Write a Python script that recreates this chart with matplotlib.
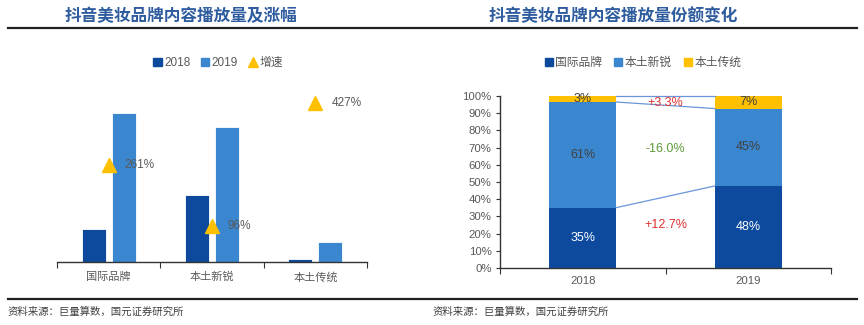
import matplotlib
matplotlib.use("Agg")
import matplotlib.pyplot as plt
from matplotlib.lines import Line2D
from matplotlib.patches import Patch

plt.rcParams['font.family'] = ['Liberation Sans', 'Noto Sans CJK SC', 'DejaVu Sans']

# ---------------- data ----------------
left_title = "抖音美妆品牌内容播放量及涨幅"
right_title = "抖音美妆品牌内容播放量份额变化"
source = "资料来源：巨量算数，国元证券研究所"

categories = ["国际品牌", "本土新锐", "本土传统"]
plays_2018 = [100, 202, 10]      # relative play volume (no axis shown)
plays_2019 = [448, 406, 60]
growth = [261, 96, 427]          # %
growth_labels = ["261%", "96%", "427%"]

years = ["2018", "2019"]
share_intl = [35.1, 47.7]
share_new = [61.4, 45.0]
share_trad = [3.5, 7.3]
share_intl_lbl = ["35%", "48%"]
share_new_lbl = ["61%", "45%"]
share_trad_lbl = ["3%", "7%"]
change_labels = ["+12.7%", "-16.0%", "+3.3%"]
change_y = [25, 69, 96]
change_colors = ["#E03030", "#5E9C3A", "#E03030"]

C_DARK = "#0D4A9E"
C_MID = "#3A87CF"
C_YEL = "#FFC000"
C_TXT = "#595959"
C_TITLE = "#2E5C9E"
C_LINK = "#6A96D8"

W, H = 864, 325
fig = plt.figure(figsize=(W / 100, H / 100), dpi=100)

def fx(px):
    return px / W

def fy(py):
    return 1 - py / H

# titles and rules
fig.text(fx(65), fy(16), left_title, color=C_TITLE, fontsize=12, fontweight='bold',
         family=['Noto Sans CJK SC'], va='center', ha='left')
fig.text(fx(489), fy(16), right_title, color=C_TITLE, fontsize=12, fontweight='bold',
         family=['Noto Sans CJK SC'], va='center', ha='left')
fig.add_artist(Line2D([fx(8), fx(857)], [fy(28), fy(28)], color='#222222', lw=1.6))
fig.add_artist(Line2D([fx(8), fx(857)], [fy(298.5), fy(298.5)], color='#222222', lw=1.6))
fig.text(fx(8), fy(312), source, color='#404040', fontsize=7.5, family=['Noto Sans CJK SC'],
         va='center', ha='left')
fig.text(fx(433), fy(312), source, color='#404040', fontsize=7.5, family=['Noto Sans CJK SC'],
         va='center', ha='left')

# ---------------- left chart ----------------
axL = fig.add_axes([fx(57), fy(262), fx(367) - fx(57), fy(83) - fy(262)])
x = list(range(len(categories)))
off, bw = 0.145, 0.235
axL.bar([i - off for i in x], plays_2018, width=bw, color=C_DARK, edgecolor='white', linewidth=0.6)
axL.bar([i + off for i in x], plays_2019, width=bw, color=C_MID, edgecolor='white', linewidth=0.6)
axL.set_xlim(-0.5, 2.5)
axL.set_ylim(0, 537)
axL.set_yticks([])
for s in ['top', 'right', 'left']:
    axL.spines[s].set_visible(False)
axL.spines['bottom'].set_color('#333333')
axL.spines['bottom'].set_linewidth(1.0)
axL.set_xticks([-0.5, 0.5, 1.5, 2.5])
axL.set_xticklabels([])
axL.set_xticks(x, minor=True)
axL.set_xticklabels(categories, minor=True, color=C_TXT, fontsize=8, family=['Noto Sans CJK SC'])
axL.tick_params(axis='x', which='major', length=4, color='#333333', direction='out')
axL.tick_params(axis='x', which='minor', length=0, pad=7)

axL2 = axL.twinx()
axL2.set_ylim(0, 482)
axL2.plot(x, growth, linestyle='none', marker='^', markersize=10, color=C_YEL)
for i, (g, lbl) in enumerate(zip(growth, growth_labels)):
    axL2.annotate(lbl, (i, g), xytext=(11.5, 0), textcoords='offset points',
                  va='center', ha='left', fontsize=8.5, color=C_TXT)
axL2.set_yticks([])
for s in ['top', 'right', 'left', 'bottom']:
    axL2.spines[s].set_visible(False)

handlesL = [Patch(color=C_DARK, label='2018'), Patch(color=C_MID, label='2019'),
            Line2D([], [], linestyle='none', marker='^', color=C_YEL, markersize=7, label='增速')]
fig.legend(handles=handlesL, loc='center', bbox_to_anchor=(fx(218), fy(63)), ncol=3,
           frameon=False, fontsize=8.5, handlelength=0.7, handleheight=0.7,
           handletextpad=0.2, columnspacing=0.9, labelcolor=C_TXT)

# ---------------- right chart ----------------
axR = fig.add_axes([fx(500), fy(268), fx(831) - fx(500), fy(96) - fy(268)])
xr = list(range(len(years)))
bw2 = 0.405
bottom2 = [a + b for a, b in zip(share_intl, share_new)]
axR.bar(xr, share_intl, width=bw2, color=C_DARK)
axR.bar(xr, share_new, width=bw2, bottom=share_intl, color=C_MID)
axR.bar(xr, share_trad, width=bw2, bottom=bottom2, color=C_YEL)
axR.set_xlim(-0.5, 1.5)
axR.set_ylim(0, 100)
axR.set_yticks(range(0, 101, 10))
axR.set_yticklabels([f"{v}%" for v in range(0, 101, 10)], fontsize=8.2, color=C_TXT)
axR.tick_params(axis='y', length=3, color='#333333', pad=3)
axR.set_xticks([-0.5, 0.5, 1.5])
axR.set_xticklabels([])
axR.set_xticks(xr, minor=True)
axR.set_xticklabels(years, minor=True, fontsize=8.2, color=C_TXT)
axR.tick_params(axis='x', which='major', length=4, color='#333333')
axR.tick_params(axis='x', which='minor', length=0, pad=6)
for s in ['top', 'right']:
    axR.spines[s].set_visible(False)
for s in ['left', 'bottom']:
    axR.spines[s].set_color('#333333')
    axR.spines[s].set_linewidth(1.0)

# series lines between bars
h = bw2 / 2
tops_intl = share_intl
tops_new = bottom2
tops_all = [a + b for a, b in zip(bottom2, share_trad)]
for series in (tops_intl, tops_new, tops_all):
    axR.plot([xr[0] + h, xr[1] - h], [series[0], series[1]], color=C_LINK, lw=0.9, clip_on=False)

# labels inside bars
for i in xr:
    axR.text(i, share_intl[i] / 2, share_intl_lbl[i], ha='center', va='center', color='white', fontsize=9)
    axR.text(i, share_intl[i] + share_new[i] / 2, share_new_lbl[i],
             ha='center', va='center', color='#404040', fontsize=9)
    axR.text(i, bottom2[i] + share_trad[i] / 2, share_trad_lbl[i], ha='center', va='center',
             color='#404040', fontsize=9)

for lbl, yv, c in zip(change_labels, change_y, change_colors):
    axR.text(0.5, yv, lbl, ha='center', va='center', color=c, fontsize=9)

handlesR = [Patch(color=C_DARK, label='国际品牌'), Patch(color=C_MID, label='本土新锐'),
            Patch(color=C_YEL, label='本土传统')]
fig.legend(handles=handlesR, loc='center', bbox_to_anchor=(fx(643), fy(63)), ncol=3,
           frameon=False, fontsize=8.5, handlelength=0.7, handleheight=0.7,
           handletextpad=0.2, columnspacing=1.0, labelcolor=C_TXT)

fig.savefig("out.png", dpi=100)
